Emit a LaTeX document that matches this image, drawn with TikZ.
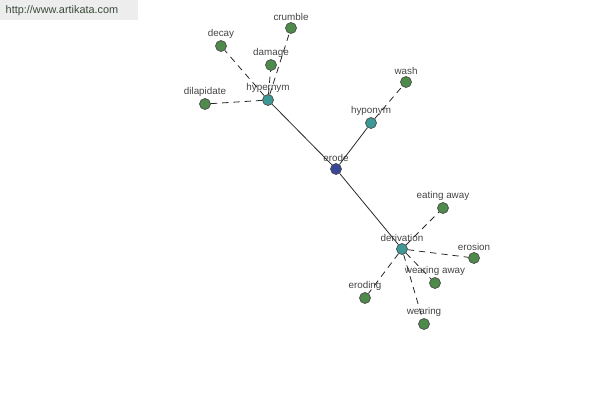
\documentclass[tikz,border=0pt]{standalone}
\usepackage{fontspec}
\setmainfont{Liberation Sans}
\definecolor{leafgreen}{HTML}{4E8A4A}
\definecolor{hubteal}{HTML}{3E9896}
\definecolor{rootblue}{HTML}{3A4696}
\definecolor{labelgray}{HTML}{444444}
\definecolor{sitegray}{HTML}{3A4A3A}
\tikzset{
  word/.style={circle, draw=black!70, line width=0.4pt, minimum size=0.22cm, inner sep=0pt,
    label={[inner sep=0.5pt, label distance=0.1pt, text=labelgray, font=\fontsize{5.6}{6}\selectfont]above:#1}},
  leaf/.style={word=#1, fill=leafgreen},
  hub/.style={word=#1, fill=hubteal},
  root/.style={word=#1, fill=rootblue},
  link/.style={draw=black!85, line width=0.45pt},
  loose/.style={link, dash pattern=on 3.6pt off 2.8pt}
}
\begin{document}
\begin{tikzpicture}[x=0.02cm, y=-0.02cm]
\useasboundingbox (0,0) rectangle (600,400);
% Watermark
\fill[black!7] (0,0) rectangle (138,20);
\node[text=sitegray] (site) at (62,11) {\fontsize{6.2}{7}\selectfont http://www.artikata.com};

% Center node
\node[root=erode] (erode) at (336,169) {};

% Relation nodes
\node[hub=hypernym] (hypernym) at (268,100) {};
\node[hub=hyponym] (hyponym) at (371,123) {};
\node[hub=derivation] (derivation) at (402,249) {};

% Hypernym leaves
\node[leaf=crumble] (crumble) at (291,28) {};
\node[leaf=decay] (decay) at (221,46) {};
\node[leaf=damage] (damage) at (271,65) {};
\node[leaf=dilapidate] (dilapidate) at (205,104) {};

% Hyponym leaves
\node[leaf=wash] (wash) at (406,82) {};

% Derivation leaves
\node[leaf=eating away] (eatingaway) at (443,208) {};
\node[leaf=erosion] (erosion) at (474,258) {};
\node[leaf=wearing away] (wearingaway) at (435,283) {};
\node[leaf=eroding] (eroding) at (365,298) {};
\node[leaf=wearing] (wearing) at (424,324) {};

% Solid links
\draw[link] (erode) -- (hypernym);
\draw[link] (erode) -- (hyponym);
\draw[link] (erode) -- (derivation);

% Dashed links
\draw[loose] (hypernym) -- (crumble);
\draw[loose] (hypernym) -- (decay);
\draw[loose] (hypernym) -- (damage);
\draw[loose] (hypernym) -- (dilapidate);
\draw[loose] (hyponym) -- (wash);
\draw[loose] (derivation) -- (eatingaway);
\draw[loose] (derivation) -- (erosion);
\draw[loose] (derivation) -- (wearingaway);
\draw[loose] (derivation) -- (eroding);
\draw[loose] (derivation) -- (wearing);

\end{tikzpicture}
\end{document}
